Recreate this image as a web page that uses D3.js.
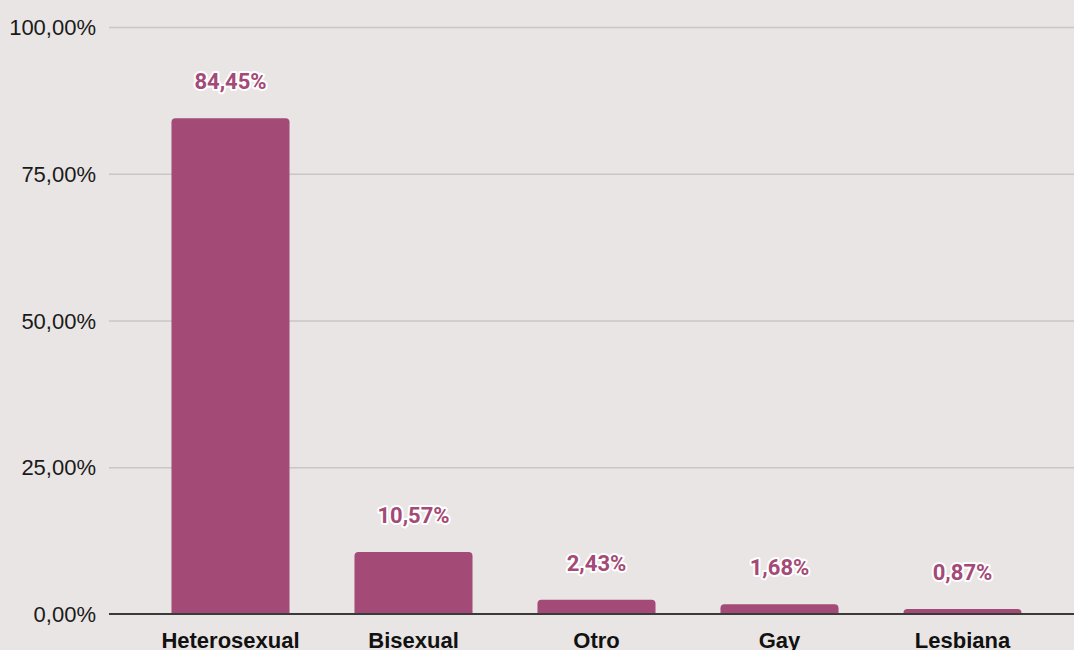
<!DOCTYPE html>
<html><head><meta charset="utf-8">
<script src="https://cdn.jsdelivr.net/npm/d3@7"></script>
<style>
html,body{margin:0;padding:0;background:#e9e5e4;}
svg{display:block;}
</style></head>
<body>
<svg id="chart" width="1074" height="650"></svg>
<script>
const categories = ["Heterosexual","Bisexual","Otro","Gay","Lesbiana"];
const values = [84.45, 10.57, 2.43, 1.68, 0.87];
const valueLabels = ["84,45%","10,57%","2,43%","1,68%","0,87%"];
const tickValues = [0, 25, 50, 75, 100];
const tickLabels = ["0,00%","25,00%","50,00%","75,00%","100,00%"];

const W = 1074, H = 650;
const svg = d3.select("#chart");
svg.append("rect").attr("width", W).attr("height", H).attr("fill", "#e9e5e4");

const gridLeft = 109, gridRight = 1074;
const y = d3.scaleLinear().domain([0, 100]).range([614, 27]);
const x = d3.scaleBand().domain(categories).range([139, 1054]).paddingInner(0.355).paddingOuter(0.1775);

// grid
const yAxis = d3.axisLeft(y).tickValues(tickValues).tickFormat((d,i) => tickLabels[i]).tickSize(0).tickPadding(0);
const gy = svg.append("g").attr("transform", `translate(${gridLeft},0)`).call(yAxis);
gy.select(".domain").remove();
gy.selectAll(".tick line").remove();
gy.selectAll(".tick").filter(d => d !== 0).append("line")
  .attr("x1", 0).attr("x2", gridRight - gridLeft).attr("stroke", "#c9c6c6").attr("stroke-width", 1.5);
gy.selectAll(".tick text").attr("x", -13).attr("dy", "0.35em")
  .attr("font-family", "Liberation Sans, Arial, sans-serif").attr("font-size", 22).attr("fill", "#1a1a1a");

// bars with rounded top corners
const r = 4;
svg.append("g").selectAll("path").data(values).join("path")
  .attr("fill", "#a34a76")
  .attr("d", (d, i) => {
    const x0 = x(categories[i]), w = x.bandwidth();
    const yt = y(d), yb = y(0);
    const rr = Math.min(r, (yb - yt));
    return `M${x0},${yb} L${x0},${yt + rr} Q${x0},${yt} ${x0 + rr},${yt} L${x0 + w - rr},${yt} Q${x0 + w},${yt} ${x0 + w},${yt + rr} L${x0 + w},${yb} Z`;
  });

// baseline axis
svg.append("line").attr("x1", gridLeft).attr("x2", gridRight).attr("y1", y(0)).attr("y2", y(0))
  .attr("stroke", "#3a3a3a").attr("stroke-width", 2);

// x axis labels
const xAxis = d3.axisBottom(x).tickSize(0).tickPadding(0);
const gx = svg.append("g").attr("transform", `translate(0,${y(0)})`).call(xAxis);
gx.select(".domain").remove();
gx.selectAll(".tick text").attr("y", 34).attr("dy", 0)
  .attr("font-family", "Liberation Sans, Arial, sans-serif").attr("font-weight", "bold")
  .attr("font-size", 22).attr("fill", "#111");

// value labels
svg.append("g").selectAll("text").data(values).join("text")
  .attr("x", (d, i) => x(categories[i]) + x.bandwidth() / 2)
  .attr("y", d => y(d) - 29)
  .attr("text-anchor", "middle")
  .attr("font-family", "Roboto, sans-serif").attr("font-weight", "bold").attr("font-size", 22)
  .attr("fill", "#a34a76").attr("stroke", "#ffffff").attr("stroke-width", 4)
  .attr("paint-order", "stroke").attr("stroke-linejoin", "round")
  .text((d, i) => valueLabels[i]);
</script>
</body></html>
